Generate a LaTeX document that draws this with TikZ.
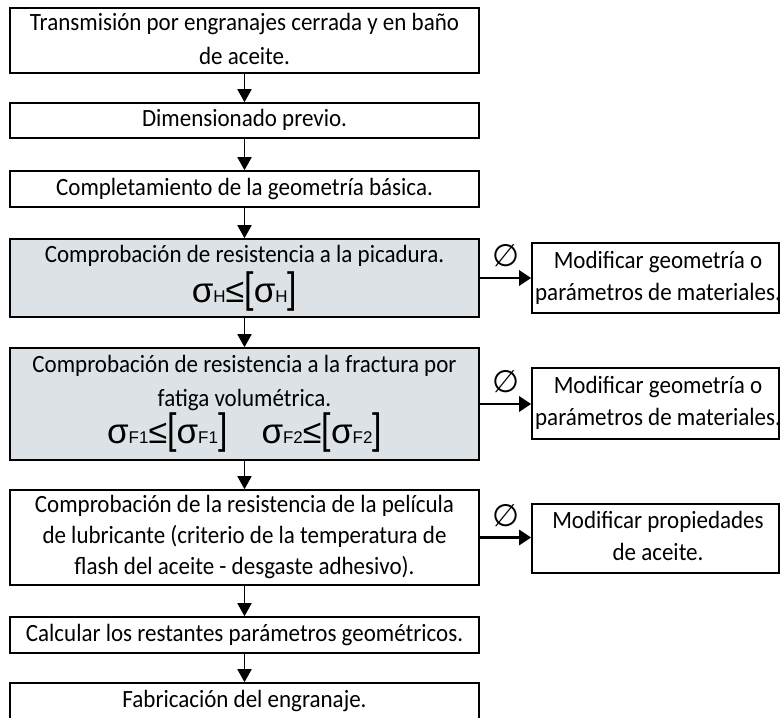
\documentclass[tikz,border=0pt]{standalone}
\usepackage{fontspec}
\setmainfont{Carlito}
\newfontfamily\symf{Liberation Sans}
\newfontfamily\dejavu{DejaVu Sans}
\usetikzlibrary{arrows.meta}
\definecolor{boxgrey}{RGB}{221,226,230}
\newcommand{\vst}[2]{\scalebox{1}[1.08]{\fontsize{23}{#1}\selectfont\begin{tabular}{@{}c@{}}#2\end{tabular}}}
\newcommand{\msig}[1]{{\symf\fontsize{35}{40}\selectfont σ}{\symf\fontsize{17}{18}\selectfont #1}}
\newcommand{\mle}{{\symf\fontsize{34}{40}\selectfont ≤}}
\newcommand{\mbl}{\scalebox{1}[1.25]{\symf\fontsize{34}{40}\selectfont [}}
\newcommand{\mbr}{\scalebox{1}[1.25]{\symf\fontsize{34}{40}\selectfont ]}}
\begin{document}
\begin{tikzpicture}[x=1pt,y=-1pt,
  box/.style={draw, line width=1.6pt, inner sep=0pt, minimum width=469pt},
  gbox/.style={box, fill=boxgrey},
  rbox/.style={draw, line width=1.6pt, inner sep=0pt, minimum width=247pt},
  txt/.style={inner sep=0pt},
  varr/.style={line width=1.8pt, -{Triangle[width=14pt,length=13pt]}},
  harr/.style={line width=2.6pt, -{Triangle[width=15pt,length=12pt]}},
  nul/.style={inner sep=0pt, font=\dejavu\fontsize{31}{34}\selectfont}
]
\useasboundingbox (0,0) rectangle (781,717);
% main column
\node[box, minimum height=65pt] (b1) at (244.5,40.5) {};
\node[txt] (t1) at (b1) {\vst{32.4}{Transmisión por engranajes cerrada y en baño\\de aceite.}};
\node[box, minimum height=35pt] (b2) at (244.5,120.5) {};
\node[txt] (t2) at (b2) {\vst{28}{Dimensionado previo.}};
\node[box, minimum height=36pt] (b3) at (244.5,189) {};
\node[txt] (t3) at (b3) {\vst{28}{Completamiento de la geometría básica.}};
\node[gbox, minimum height=78pt] (b4) at (244.5,278) {};
\node[txt] (t4a) at (244.5,256) {\vst{28}{Comprobación de resistencia a la picadura.}};
\node[txt] (t4b) at (244.5,292) {\msig{H}\mle\mbl\msig{H}\mbr};
\node[gbox, minimum height=112pt] (b5) at (244.5,404) {};
\node[txt] (t5a) at (244.5,382.5) {\vst{32.4}{Comprobación de resistencia a la fractura por\\fatiga volumétrica.}};
\node[txt] (t5b) at (244.5,433) {\msig{F1}\mle\mbl\msig{F1}\mbr\hspace{34pt}\msig{F2}\mle\mbl\msig{F2}\mbr};
\node[box, minimum height=95pt] (b6) at (244.5,537.5) {};
\node[txt] (t6) at (b6) {\vst{28.7}{Comprobación de la resistencia de la película\\de lubricante (criterio de la temperatura de\\flash del aceite - desgaste adhesivo).}};
\node[box, minimum height=36pt] (b7) at (244.5,635) {};
\node[txt] (t7) at (b7) {\vst{28}{Calcular los restantes parámetros geométricos.}};
\node[box, minimum height=37pt] (b8) at (244.5,701.5) {};
\node[txt] (t8) at (b8) {\vst{28}{Fabricación del engranaje.}};
% right column
\node[rbox, minimum height=70pt] (r1) at (655.5,278) {};
\node[txt] (tr1) at (658,278) {\vst{29.6}{Modificar geometría o\\parámetros de materiales.}};
\node[rbox, minimum height=71pt] (r2) at (655.5,403.5) {};
\node[txt] (tr2) at (658,403.5) {\vst{29.6}{Modificar geometría o\\parámetros de materiales.}};
\node[rbox, minimum height=69pt] (r3) at (655.5,538.5) {};
\node[txt] (tr3) at (658,538.5) {\vst{29.6}{Modificar propiedades\\de aceite.}};
% vertical connectors
\draw[varr] (b1) -- (b2);
\draw[varr] (b2) -- (b3);
\draw[varr] (b3) -- (b4);
\draw[varr] (b4) -- (b5);
\draw[varr] (b5) -- (b6);
\draw[varr] (b6) -- (b7);
\draw[varr] (b7) -- (b8);
% horizontal connectors
\draw[harr] (b4) -- (r1) node[nul, midway, yshift=22pt] (n1) {∅};
\draw[harr] (b5.east) -- (b5.east -| r2.west) node[nul, midway, yshift=22pt] (n2) {∅};
\draw[harr] (b6.east) -- (b6.east -| r3.west) node[nul, midway, yshift=22pt] (n3) {∅};
\end{tikzpicture}
\end{document}
